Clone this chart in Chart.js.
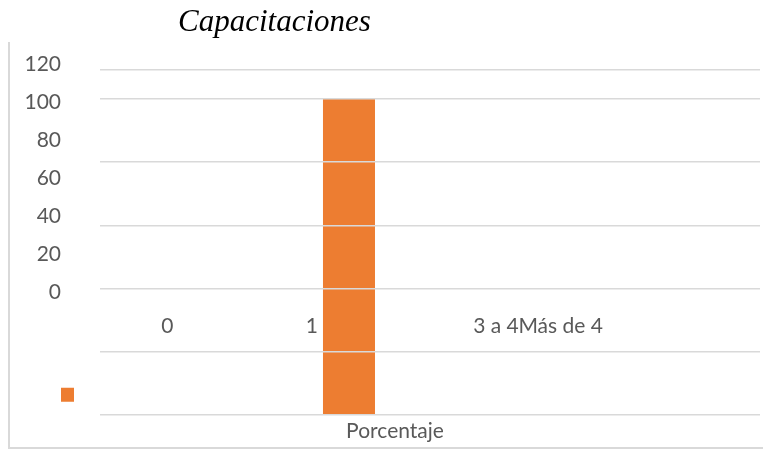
<!DOCTYPE html>
<html>
<head>
<meta charset="utf-8">
<script src="https://cdn.jsdelivr.net/npm/chart.js@4.4.1/dist/chart.umd.min.js"></script>
<style>
  body { margin: 0; background: #fff; }
  #wrap { width: 763px; height: 449px; position: relative; }
</style>
</head>
<body>
<div id="wrap"><canvas id="grafico"></canvas></div>
<script>
// datos
const titulo = 'Capacitaciones';
const categorias = ['Porcentaje'];
const series = ['0', '1', '3 a 4', 'Más de 4'];
const valores = [[0], [100], [0], [0]];
const etiquetasY = [0, 20, 40, 60, 80, 100, 120];
const lineasY = [0, 20, 40, 60, 80, 100];

const colores = ['#4472C4', '#ED7D31', '#A5A5A5', '#FFC000'];
const gris = '#595959';

// marco y titulo (a la manera de la hoja de calculo)
const marco = {
  id: 'marco',
  afterDraw(chart) {
    const ctx = chart.ctx;
    ctx.save();
    ctx.strokeStyle = '#d9d9d9';
    ctx.lineWidth = 2;
    ctx.beginPath();
    ctx.moveTo(9, 42);
    ctx.lineTo(9, 448);
    ctx.lineTo(763, 448);
    ctx.stroke();
    ctx.fillStyle = '#000';
    ctx.font = 'italic 31px "Liberation Serif"';
    ctx.textBaseline = 'alphabetic';
    ctx.fillText(titulo, 178, 31);
    ctx.restore();
  }
};

window.addEventListener('load', () => {
  new Chart(document.getElementById('grafico'), {
    type: 'bar',
    data: {
      labels: categorias,
      datasets: series.map((s, i) => ({
        label: s,
        data: valores[i],
        backgroundColor: colores[i],
        categoryPercentage: 0.982,
        barPercentage: 0.321
      }))
    },
    options: {
      responsive: true,
      maintainAspectRatio: false,
      animation: false,
      layout: { padding: { left: 25, right: 3, top: 70, bottom: 1 } },
      plugins: {
        title: { display: false },
        tooltip: { enabled: false },
        legend: {
          position: 'left',
          align: 'end',
          fullSize: false,
          maxWidth: 39,
          labels: {
            boxWidth: 13,
            boxHeight: 14,
            padding: 0,
            font: { size: 40 },
            generateLabels: chart =>
              Chart.defaults.plugins.legend.labels.generateLabels(chart)
                .filter(l => l.text === '1')
                .map(l => ({ ...l, text: '' }))
          }
        }
      },
      scales: {
        x: {
          grid: { display: false, drawTicks: false },
          border: { display: false },
          ticks: {
            color: gris,
            font: { family: 'Lato', size: 21 },
            padding: 4,
            labelOffset: -35
          }
        },
        y: {
          min: 0,
          max: 109.2,
          weight: 0,
          // las lineas pasan por encima de la barra
          grid: { color: '#d9d9d9', lineWidth: 1.5, drawTicks: false, z: 1 },
          border: { display: false },
          ticks: { display: false },
          afterBuildTicks: s => {
            s.ticks = lineasY.concat([s.max]).map(v => ({ value: v }));
          }
        },
        yl: {
          type: 'linear',
          axis: 'y',
          position: 'left',
          weight: 2000,
          min: -64.2,
          max: 116.8,
          grid: { display: false, drawTicks: false },
          border: { display: false },
          ticks: {
            color: gris,
            font: { family: 'Lato', size: 21 },
            padding: 0
          },
          afterBuildTicks: s => {
            s.ticks = etiquetasY.map(v => ({ value: v }));
          },
          afterFit: s => { s.width = 36; }
        },
        // nombres de las series, tal como quedan dentro del area
        lx: {
          type: 'linear',
          axis: 'x',
          position: { y: 32 },
          offset: false,
          min: 0,
          max: 100,
          grid: { display: false, drawTicks: false },
          border: { display: false },
          ticks: {
            color: gris,
            font: { family: 'Lato', size: 21 },
            padding: 0,
            autoSkip: false,
            maxRotation: 0,
            callback: (v, i) => series[i]
          },
          afterBuildTicks: s => {
            s.ticks = [10.2, 32.1, 60, 69.8].map(v => ({ value: v }));
          }
        }
      }
    },
    plugins: [marco]
  });
});
</script>
</body>
</html>
